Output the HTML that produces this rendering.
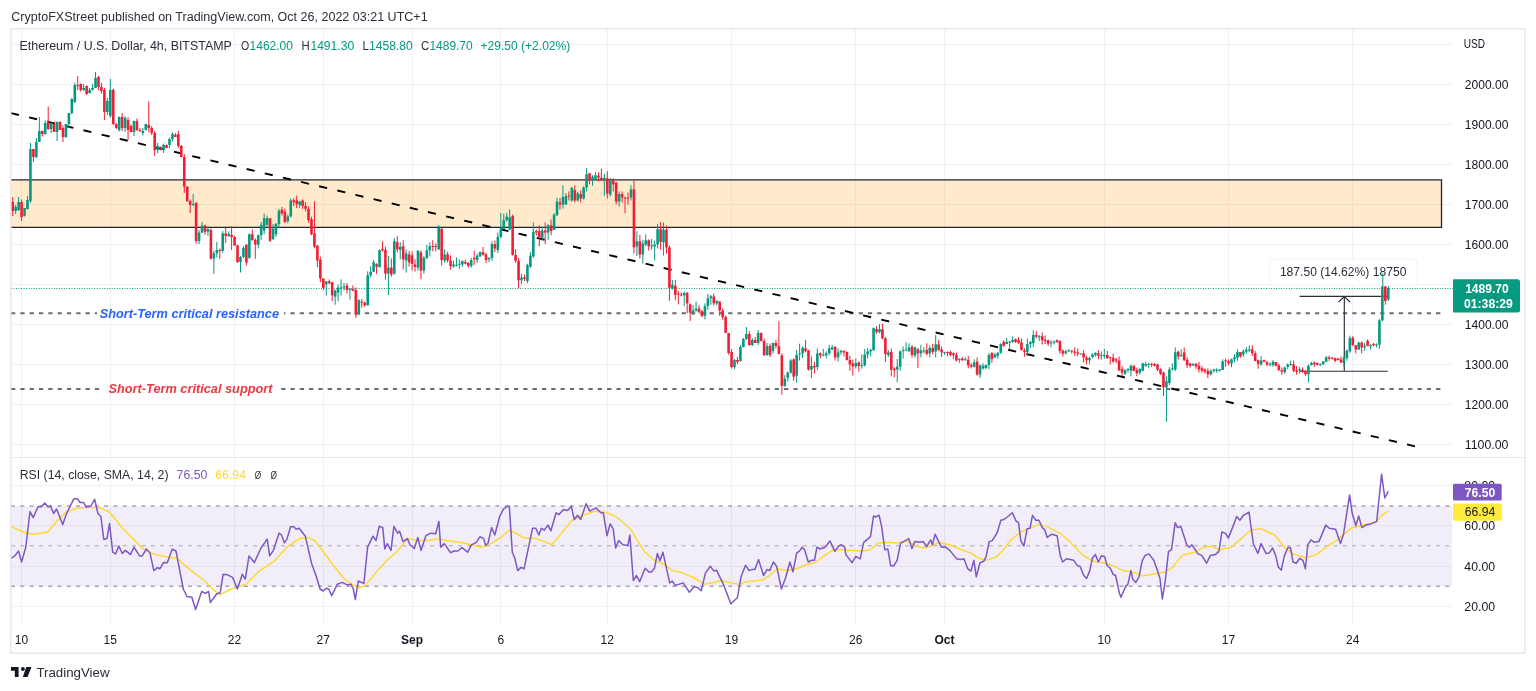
<!DOCTYPE html>
<html><head><meta charset="utf-8"><style>html,body{margin:0;padding:0;background:#fff;width:1536px;height:691px;overflow:hidden}svg{display:block}</style></head>
<body><div style="will-change:transform;width:1536px;height:691px"><svg width="1536" height="691" viewBox="0 0 1536 691" font-family="Liberation Sans, sans-serif"><rect width="1536" height="691" fill="#ffffff"/><text x="11.3" y="20.8" font-size="12.5" fill="#2a2e39" textLength="416.3" lengthAdjust="spacingAndGlyphs">CryptoFXStreet published on TradingView.com, Oct 26, 2022 03:21 UTC+1</text><path d="M11 44.5H1453M11 84.5H1453M11 124.5H1453M11 164.5H1453M11 204.5H1453M11 244.5H1453M11 284.5H1453M11 324.5H1453M11 364.5H1453M11 404.5H1453M11 444.5H1453M11 485.5H1453M11 525.5H1453M11 566.5H1453M11 606.5H1453M21.5 29V457M21.5 458V624M110.5 29V457M110.5 458V624M234.5 29V457M234.5 458V624M323.5 29V457M323.5 458V624M412.5 29V457M412.5 458V624M500.5 29V457M500.5 458V624M607.5 29V457M607.5 458V624M731.5 29V457M731.5 458V624M855.5 29V457M855.5 458V624M944.5 29V457M944.5 458V624M1104.5 29V457M1104.5 458V624M1228.5 29V457M1228.5 458V624M1352.5 29V457M1352.5 458V624" stroke="#f0f1f4" stroke-width="1" fill="none"/><rect x="10" y="179.8" width="1431.5" height="47.6" fill="rgba(255,152,0,0.2)"/><path d="M10 179.8H1441.5V227.4H10" fill="none" stroke="#22252e" stroke-width="1.3"/><path d="M11 313.3H97" stroke="#6a6d75" stroke-width="2" stroke-dasharray="4.3 5.014" stroke-dashoffset="0.00" fill="none"/><path d="M283.9 313.3H1441" stroke="#6a6d75" stroke-width="2" stroke-dasharray="4.3 5.014" stroke-dashoffset="2.79" fill="none"/><path d="M11 389H99.5" stroke="#6a6d75" stroke-width="2" stroke-dasharray="4.3 5.014" stroke-dashoffset="0.00" fill="none"/><path d="M281 389H1441" stroke="#6a6d75" stroke-width="2" stroke-dasharray="4.3 5.014" stroke-dashoffset="9.21" fill="none"/><text x="99.7" y="317.7" font-size="12.5" fill="#2962ff" textLength="179.3" lengthAdjust="spacingAndGlyphs" font-weight="bold" font-style="italic">Short-Term critical resistance</text><text x="108.5" y="393.2" font-size="12.5" fill="#f23645" textLength="164" lengthAdjust="spacingAndGlyphs" font-weight="bold" font-style="italic">Short-Term critical support</text><path d="M10.93 113.07L1415 446.3" stroke="#000000" stroke-width="1.9" stroke-dasharray="8.2 10.435" fill="none"/><path d="M11 288.5H1453" stroke="#089981" stroke-width="1" stroke-dasharray="1 1.52" fill="none"/><path d="M1299.6 296.4H1387.8M1299.6 371.2H1387.8M1344.3 371.2V296.9M1338.6 302L1344.3 296.6L1350 302" stroke="#2a2e39" stroke-width="1.15" fill="none"/><g fill="#089981"><rect x="14.35" y="207.00" width="2.6" height="4.00"/><rect x="15.15" y="205.00" width="1" height="9.00"/><rect x="17.31" y="202.00" width="2.6" height="8.00"/><rect x="18.11" y="197.00" width="1" height="14.00"/><rect x="23.22" y="208.00" width="2.6" height="8.00"/><rect x="24.02" y="208.00" width="1" height="8.50"/><rect x="26.18" y="200.00" width="2.6" height="9.00"/><rect x="26.98" y="196.00" width="1" height="13.50"/><rect x="29.14" y="149.00" width="2.6" height="52.00"/><rect x="29.94" y="143.00" width="1" height="60.00"/><rect x="35.06" y="142.00" width="2.6" height="15.00"/><rect x="35.86" y="138.00" width="1" height="20.00"/><rect x="38.02" y="131.00" width="2.6" height="11.00"/><rect x="38.82" y="117.00" width="1" height="25.00"/><rect x="43.93" y="123.00" width="2.6" height="11.00"/><rect x="44.73" y="120.50" width="1" height="14.00"/><rect x="49.85" y="123.00" width="2.6" height="6.00"/><rect x="50.65" y="122.50" width="1" height="10.50"/><rect x="55.77" y="122.00" width="2.6" height="10.00"/><rect x="56.57" y="121.50" width="1" height="19.50"/><rect x="64.64" y="124.00" width="2.6" height="13.00"/><rect x="65.44" y="124.00" width="1" height="14.00"/><rect x="67.60" y="113.00" width="2.6" height="11.00"/><rect x="68.40" y="113.00" width="1" height="15.00"/><rect x="70.56" y="99.00" width="2.6" height="14.00"/><rect x="71.36" y="98.00" width="1" height="16.50"/><rect x="73.51" y="85.00" width="2.6" height="17.00"/><rect x="74.31" y="82.50" width="1" height="20.50"/><rect x="82.39" y="88.00" width="2.6" height="2.00"/><rect x="83.19" y="84.00" width="1" height="7.00"/><rect x="88.31" y="90.00" width="2.6" height="3.00"/><rect x="89.11" y="88.00" width="1" height="5.50"/><rect x="91.26" y="88.00" width="2.6" height="2.00"/><rect x="92.06" y="84.00" width="1" height="6.50"/><rect x="94.22" y="78.00" width="2.6" height="10.00"/><rect x="95.02" y="72.00" width="1" height="16.00"/><rect x="106.06" y="101.00" width="2.6" height="11.00"/><rect x="106.86" y="98.00" width="1" height="17.00"/><rect x="109.01" y="90.00" width="2.6" height="26.00"/><rect x="109.81" y="79.00" width="1" height="39.00"/><rect x="117.89" y="117.00" width="2.6" height="13.00"/><rect x="118.69" y="116.50" width="1" height="15.00"/><rect x="123.81" y="118.00" width="2.6" height="10.00"/><rect x="124.61" y="116.00" width="1" height="16.00"/><rect x="132.68" y="121.00" width="2.6" height="11.00"/><rect x="133.48" y="120.50" width="1" height="15.50"/><rect x="141.56" y="131.00" width="2.6" height="2.00"/><rect x="142.36" y="128.00" width="1" height="7.50"/><rect x="144.51" y="124.00" width="2.6" height="6.00"/><rect x="145.31" y="124.00" width="1" height="6.50"/><rect x="156.35" y="146.00" width="2.6" height="4.00"/><rect x="157.15" y="143.00" width="1" height="10.00"/><rect x="162.26" y="145.00" width="2.6" height="5.00"/><rect x="163.06" y="143.50" width="1" height="9.50"/><rect x="168.18" y="139.00" width="2.6" height="6.00"/><rect x="168.98" y="137.50" width="1" height="10.50"/><rect x="171.14" y="134.00" width="2.6" height="5.00"/><rect x="171.94" y="132.50" width="1" height="9.00"/><rect x="191.85" y="204.00" width="2.6" height="1.00"/><rect x="192.65" y="194.00" width="1" height="12.00"/><rect x="197.76" y="232.50" width="2.6" height="8.50"/><rect x="198.56" y="230.00" width="1" height="14.00"/><rect x="200.72" y="225.60" width="2.6" height="6.90"/><rect x="201.52" y="222.00" width="1" height="11.00"/><rect x="206.64" y="229.00" width="2.6" height="2.70"/><rect x="207.44" y="226.50" width="1" height="9.20"/><rect x="212.55" y="253.40" width="2.6" height="5.20"/><rect x="213.35" y="250.90" width="1" height="23.10"/><rect x="215.51" y="250.00" width="2.6" height="3.40"/><rect x="216.31" y="242.00" width="1" height="15.40"/><rect x="221.43" y="233.40" width="2.6" height="17.40"/><rect x="222.23" y="230.90" width="1" height="21.90"/><rect x="227.35" y="234.00" width="2.6" height="2.00"/><rect x="228.15" y="231.50" width="1" height="5.50"/><rect x="239.18" y="257.00" width="2.6" height="5.00"/><rect x="239.98" y="256.00" width="1" height="16.50"/><rect x="242.14" y="248.00" width="2.6" height="9.00"/><rect x="242.94" y="246.00" width="1" height="12.00"/><rect x="248.05" y="234.30" width="2.6" height="23.50"/><rect x="248.85" y="233.30" width="1" height="25.50"/><rect x="256.93" y="235.20" width="2.6" height="9.40"/><rect x="257.73" y="234.30" width="1" height="14.10"/><rect x="259.89" y="224.80" width="2.6" height="10.40"/><rect x="260.69" y="222.00" width="1" height="17.90"/><rect x="262.85" y="218.20" width="2.6" height="12.30"/><rect x="263.65" y="213.50" width="1" height="20.80"/><rect x="265.80" y="218.20" width="2.6" height="6.60"/><rect x="266.60" y="215.40" width="1" height="10.90"/><rect x="271.72" y="228.60" width="2.6" height="10.40"/><rect x="272.52" y="223.90" width="1" height="16.10"/><rect x="274.68" y="223.90" width="2.6" height="10.40"/><rect x="275.48" y="223.00" width="1" height="13.80"/><rect x="277.64" y="210.70" width="2.6" height="13.20"/><rect x="278.44" y="208.80" width="1" height="19.10"/><rect x="286.51" y="216.40" width="2.6" height="4.70"/><rect x="287.31" y="214.50" width="1" height="8.60"/><rect x="289.47" y="200.40" width="2.6" height="16.00"/><rect x="290.27" y="198.50" width="1" height="18.90"/><rect x="298.35" y="201.30" width="2.6" height="3.70"/><rect x="299.15" y="201.30" width="1" height="6.60"/><rect x="324.97" y="281.30" width="2.6" height="2.90"/><rect x="325.77" y="281.30" width="1" height="14.20"/><rect x="333.85" y="290.50" width="2.6" height="6.10"/><rect x="334.65" y="289.50" width="1" height="15.20"/><rect x="336.80" y="287.50" width="2.6" height="5.10"/><rect x="337.60" y="284.40" width="1" height="16.80"/><rect x="339.76" y="287.50" width="2.6" height="1.00"/><rect x="340.56" y="279.40" width="1" height="16.20"/><rect x="342.72" y="286.50" width="2.6" height="1.00"/><rect x="343.52" y="283.00" width="1" height="7.50"/><rect x="348.64" y="289.00" width="2.6" height="1.00"/><rect x="349.44" y="288.00" width="1" height="11.60"/><rect x="357.51" y="300.20" width="2.6" height="14.10"/><rect x="358.31" y="299.10" width="1" height="16.20"/><rect x="366.39" y="275.30" width="2.6" height="29.90"/><rect x="367.19" y="271.30" width="1" height="34.40"/><rect x="369.34" y="271.80" width="2.6" height="3.50"/><rect x="370.14" y="266.20" width="1" height="11.10"/><rect x="372.30" y="262.20" width="2.6" height="9.60"/><rect x="373.10" y="260.10" width="1" height="11.70"/><rect x="378.22" y="250.00" width="2.6" height="17.20"/><rect x="379.02" y="249.50" width="1" height="17.70"/><rect x="387.09" y="267.60" width="2.6" height="6.00"/><rect x="387.89" y="255.90" width="1" height="39.10"/><rect x="393.01" y="241.20" width="2.6" height="32.40"/><rect x="393.81" y="238.20" width="1" height="36.40"/><rect x="398.93" y="246.80" width="2.6" height="3.00"/><rect x="399.73" y="242.20" width="1" height="17.20"/><rect x="404.84" y="253.40" width="2.6" height="7.10"/><rect x="405.64" y="249.30" width="1" height="23.30"/><rect x="416.68" y="250.80" width="2.6" height="16.80"/><rect x="417.48" y="250.30" width="1" height="20.30"/><rect x="422.59" y="257.90" width="2.6" height="12.70"/><rect x="423.39" y="255.90" width="1" height="17.70"/><rect x="425.55" y="250.30" width="2.6" height="8.10"/><rect x="426.35" y="244.80" width="1" height="13.60"/><rect x="428.51" y="246.30" width="2.6" height="4.00"/><rect x="429.31" y="242.20" width="1" height="14.20"/><rect x="437.39" y="228.00" width="2.6" height="21.30"/><rect x="438.19" y="225.00" width="1" height="24.80"/><rect x="443.30" y="254.40" width="2.6" height="6.10"/><rect x="444.10" y="249.30" width="1" height="13.70"/><rect x="452.18" y="264.50" width="2.6" height="2.00"/><rect x="452.98" y="260.50" width="1" height="7.10"/><rect x="455.14" y="264.75" width="2.6" height="1.00"/><rect x="455.94" y="257.40" width="1" height="9.10"/><rect x="458.09" y="263.75" width="2.6" height="1.00"/><rect x="458.89" y="259.40" width="1" height="9.20"/><rect x="461.05" y="261.00" width="2.6" height="3.50"/><rect x="461.85" y="260.50" width="1" height="6.50"/><rect x="469.93" y="260.00" width="2.6" height="5.80"/><rect x="470.73" y="258.00" width="1" height="9.80"/><rect x="475.84" y="255.70" width="2.6" height="4.30"/><rect x="476.64" y="253.50" width="1" height="9.50"/><rect x="478.80" y="252.10" width="2.6" height="4.30"/><rect x="479.60" y="251.40" width="1" height="5.50"/><rect x="487.68" y="257.90" width="2.6" height="1.40"/><rect x="488.48" y="257.20" width="1" height="5.10"/><rect x="490.64" y="244.10" width="2.6" height="13.80"/><rect x="491.44" y="241.20" width="1" height="19.70"/><rect x="496.55" y="236.90" width="2.6" height="13.10"/><rect x="497.35" y="232.60" width="1" height="20.40"/><rect x="499.51" y="228.90" width="2.6" height="8.00"/><rect x="500.31" y="213.00" width="1" height="25.40"/><rect x="502.47" y="220.30" width="2.6" height="8.60"/><rect x="503.27" y="213.70" width="1" height="15.70"/><rect x="505.43" y="216.60" width="2.6" height="3.70"/><rect x="506.23" y="213.00" width="1" height="8.30"/><rect x="508.38" y="217.40" width="2.6" height="12.30"/><rect x="509.18" y="209.40" width="1" height="20.30"/><rect x="520.22" y="277.40" width="2.6" height="2.90"/><rect x="521.02" y="273.80" width="1" height="10.10"/><rect x="526.13" y="265.10" width="2.6" height="15.90"/><rect x="526.93" y="263.70" width="1" height="19.50"/><rect x="529.09" y="255.70" width="2.6" height="10.90"/><rect x="529.89" y="252.10" width="1" height="15.90"/><rect x="532.05" y="231.80" width="2.6" height="24.60"/><rect x="532.85" y="222.40" width="1" height="35.50"/><rect x="540.93" y="230.40" width="2.6" height="7.20"/><rect x="541.73" y="226.80" width="1" height="13.70"/><rect x="546.84" y="225.30" width="2.6" height="7.30"/><rect x="547.64" y="224.30" width="1" height="15.50"/><rect x="552.76" y="214.70" width="2.6" height="15.30"/><rect x="553.56" y="213.20" width="1" height="16.80"/><rect x="555.72" y="201.50" width="2.6" height="13.70"/><rect x="556.52" y="197.50" width="1" height="18.70"/><rect x="561.63" y="197.00" width="2.6" height="7.60"/><rect x="562.43" y="185.30" width="1" height="23.30"/><rect x="564.59" y="196.00" width="2.6" height="8.60"/><rect x="565.39" y="193.00" width="1" height="11.60"/><rect x="570.51" y="187.90" width="2.6" height="12.60"/><rect x="571.31" y="186.90" width="1" height="14.60"/><rect x="576.43" y="193.40" width="2.6" height="7.10"/><rect x="577.23" y="191.90" width="1" height="9.60"/><rect x="582.34" y="187.40" width="2.6" height="11.10"/><rect x="583.14" y="186.30" width="1" height="13.20"/><rect x="585.30" y="174.20" width="2.6" height="13.20"/><rect x="586.10" y="168.10" width="1" height="23.30"/><rect x="591.22" y="176.70" width="2.6" height="3.60"/><rect x="592.02" y="175.20" width="1" height="10.60"/><rect x="594.18" y="175.20" width="2.6" height="4.00"/><rect x="594.98" y="172.20" width="1" height="7.50"/><rect x="603.05" y="177.70" width="2.6" height="2.60"/><rect x="603.85" y="173.70" width="1" height="21.80"/><rect x="608.97" y="179.80" width="2.6" height="14.60"/><rect x="609.77" y="177.80" width="1" height="18.70"/><rect x="617.84" y="194.00" width="2.6" height="7.50"/><rect x="618.64" y="191.40" width="1" height="15.20"/><rect x="629.68" y="189.40" width="2.6" height="8.10"/><rect x="630.48" y="185.30" width="1" height="15.20"/><rect x="635.59" y="241.30" width="2.6" height="5.10"/><rect x="636.39" y="231.20" width="1" height="24.80"/><rect x="641.51" y="243.40" width="2.6" height="11.10"/><rect x="642.31" y="239.80" width="1" height="23.80"/><rect x="644.47" y="240.30" width="2.6" height="4.10"/><rect x="645.27" y="234.30" width="1" height="12.10"/><rect x="650.38" y="245.40" width="2.6" height="1.00"/><rect x="651.18" y="238.80" width="1" height="10.70"/><rect x="653.34" y="244.40" width="2.6" height="2.00"/><rect x="654.14" y="240.40" width="1" height="20.20"/><rect x="656.30" y="229.20" width="2.6" height="15.20"/><rect x="657.10" y="224.10" width="1" height="24.30"/><rect x="662.22" y="229.70" width="2.6" height="12.70"/><rect x="663.02" y="222.60" width="1" height="32.90"/><rect x="671.09" y="284.60" width="2.6" height="3.90"/><rect x="671.89" y="280.00" width="1" height="9.80"/><rect x="682.92" y="293.00" width="2.6" height="2.30"/><rect x="683.72" y="291.40" width="1" height="14.60"/><rect x="691.80" y="310.30" width="2.6" height="2.30"/><rect x="692.60" y="305.10" width="1" height="10.00"/><rect x="694.76" y="308.60" width="2.6" height="2.00"/><rect x="695.56" y="301.50" width="1" height="10.10"/><rect x="703.63" y="306.00" width="2.6" height="9.80"/><rect x="704.43" y="303.40" width="1" height="16.00"/><rect x="706.59" y="298.20" width="2.6" height="7.80"/><rect x="707.39" y="294.00" width="1" height="16.00"/><rect x="709.55" y="296.30" width="2.6" height="1.90"/><rect x="710.35" y="295.00" width="1" height="9.70"/><rect x="715.47" y="301.00" width="2.6" height="2.40"/><rect x="716.27" y="300.20" width="1" height="5.20"/><rect x="733.22" y="360.00" width="2.6" height="7.00"/><rect x="734.02" y="359.00" width="1" height="10.00"/><rect x="739.13" y="347.00" width="2.6" height="14.00"/><rect x="739.93" y="345.00" width="1" height="16.50"/><rect x="742.09" y="339.00" width="2.6" height="8.00"/><rect x="742.89" y="338.00" width="1" height="9.50"/><rect x="745.05" y="334.00" width="2.6" height="5.00"/><rect x="745.85" y="327.00" width="1" height="13.00"/><rect x="750.97" y="340.00" width="2.6" height="5.00"/><rect x="751.77" y="338.00" width="1" height="8.00"/><rect x="756.88" y="333.00" width="2.6" height="10.00"/><rect x="757.68" y="330.00" width="1" height="15.00"/><rect x="765.76" y="346.00" width="2.6" height="9.00"/><rect x="766.56" y="343.00" width="1" height="13.00"/><rect x="771.67" y="343.00" width="2.6" height="8.00"/><rect x="772.47" y="342.50" width="1" height="11.00"/><rect x="783.51" y="378.70" width="2.6" height="7.10"/><rect x="784.31" y="375.20" width="1" height="11.60"/><rect x="786.47" y="372.60" width="2.6" height="5.10"/><rect x="787.27" y="371.60" width="1" height="10.10"/><rect x="789.42" y="360.50" width="2.6" height="12.10"/><rect x="790.22" y="358.90" width="1" height="14.70"/><rect x="795.34" y="354.90" width="2.6" height="20.80"/><rect x="796.14" y="349.80" width="1" height="33.00"/><rect x="798.30" y="353.40" width="2.6" height="1.00"/><rect x="799.10" y="343.70" width="1" height="16.80"/><rect x="801.26" y="347.80" width="2.6" height="5.60"/><rect x="802.06" y="346.30" width="1" height="11.60"/><rect x="810.13" y="366.00" width="2.6" height="3.60"/><rect x="810.93" y="356.40" width="1" height="21.80"/><rect x="816.05" y="353.40" width="2.6" height="13.60"/><rect x="816.85" y="348.30" width="1" height="21.70"/><rect x="821.96" y="354.65" width="2.6" height="1.00"/><rect x="822.76" y="348.80" width="1" height="7.60"/><rect x="824.92" y="353.40" width="2.6" height="2.00"/><rect x="825.72" y="351.30" width="1" height="7.10"/><rect x="827.88" y="348.30" width="2.6" height="5.10"/><rect x="828.68" y="344.80" width="1" height="10.60"/><rect x="830.84" y="347.30" width="2.6" height="2.00"/><rect x="831.64" y="344.80" width="1" height="5.50"/><rect x="836.76" y="352.40" width="2.6" height="5.00"/><rect x="837.56" y="348.40" width="1" height="13.00"/><rect x="839.71" y="350.80" width="2.6" height="1.60"/><rect x="840.51" y="349.80" width="1" height="5.10"/><rect x="854.51" y="363.00" width="2.6" height="3.50"/><rect x="855.31" y="358.40" width="1" height="10.20"/><rect x="860.42" y="365.25" width="2.6" height="1.00"/><rect x="861.22" y="354.40" width="1" height="14.10"/><rect x="863.38" y="354.40" width="2.6" height="11.10"/><rect x="864.18" y="348.80" width="1" height="17.70"/><rect x="866.34" y="351.40" width="2.6" height="3.10"/><rect x="867.14" y="347.90" width="1" height="10.60"/><rect x="869.30" y="349.90" width="2.6" height="1.50"/><rect x="870.10" y="348.90" width="1" height="7.60"/><rect x="872.26" y="328.10" width="2.6" height="22.30"/><rect x="873.06" y="327.60" width="1" height="22.80"/><rect x="878.17" y="329.10" width="2.6" height="3.10"/><rect x="878.97" y="324.10" width="1" height="9.10"/><rect x="887.05" y="352.40" width="2.6" height="2.60"/><rect x="887.85" y="349.90" width="1" height="7.10"/><rect x="895.92" y="366.60" width="2.6" height="3.00"/><rect x="896.72" y="359.00" width="1" height="23.30"/><rect x="898.88" y="351.40" width="2.6" height="15.20"/><rect x="899.68" y="350.40" width="1" height="20.20"/><rect x="901.84" y="350.40" width="2.6" height="1.00"/><rect x="902.64" y="346.40" width="1" height="12.10"/><rect x="904.80" y="349.40" width="2.6" height="1.00"/><rect x="905.60" y="342.30" width="1" height="9.10"/><rect x="907.76" y="347.40" width="2.6" height="4.00"/><rect x="908.56" y="343.30" width="1" height="8.10"/><rect x="913.67" y="347.40" width="2.6" height="8.10"/><rect x="914.47" y="346.40" width="1" height="11.10"/><rect x="919.59" y="350.40" width="2.6" height="3.00"/><rect x="920.39" y="344.80" width="1" height="12.70"/><rect x="922.55" y="350.40" width="2.6" height="1.00"/><rect x="923.35" y="347.40" width="1" height="6.00"/><rect x="928.46" y="347.90" width="2.6" height="5.50"/><rect x="929.26" y="345.30" width="1" height="12.10"/><rect x="934.38" y="344.30" width="2.6" height="7.10"/><rect x="935.18" y="335.20" width="1" height="22.30"/><rect x="943.25" y="351.90" width="2.6" height="1.00"/><rect x="944.05" y="351.90" width="1" height="3.00"/><rect x="958.05" y="358.85" width="2.6" height="1.00"/><rect x="958.85" y="358.40" width="1" height="4.40"/><rect x="963.96" y="359.25" width="2.6" height="1.00"/><rect x="964.76" y="357.10" width="1" height="3.50"/><rect x="972.84" y="362.40" width="2.6" height="4.30"/><rect x="973.64" y="359.30" width="1" height="8.40"/><rect x="978.75" y="365.40" width="2.6" height="9.10"/><rect x="979.55" y="364.50" width="1" height="13.50"/><rect x="981.71" y="365.80" width="2.6" height="2.60"/><rect x="982.51" y="363.20" width="1" height="6.50"/><rect x="984.67" y="365.00" width="2.6" height="3.00"/><rect x="985.47" y="364.50" width="1" height="4.50"/><rect x="987.63" y="355.00" width="2.6" height="10.00"/><rect x="988.43" y="353.20" width="1" height="15.80"/><rect x="993.55" y="354.50" width="2.6" height="3.10"/><rect x="994.35" y="352.80" width="1" height="4.80"/><rect x="996.50" y="352.80" width="2.6" height="3.00"/><rect x="997.30" y="351.90" width="1" height="6.90"/><rect x="999.46" y="344.10" width="2.6" height="8.70"/><rect x="1000.26" y="343.20" width="1" height="10.60"/><rect x="1005.38" y="341.90" width="2.6" height="2.20"/><rect x="1006.18" y="338.00" width="1" height="6.10"/><rect x="1008.34" y="341.65" width="2.6" height="1.00"/><rect x="1009.14" y="340.90" width="1" height="8.00"/><rect x="1011.30" y="339.80" width="2.6" height="2.10"/><rect x="1012.10" y="336.30" width="1" height="6.60"/><rect x="1026.09" y="344.10" width="2.6" height="7.80"/><rect x="1026.89" y="338.50" width="1" height="17.40"/><rect x="1029.05" y="341.90" width="2.6" height="2.20"/><rect x="1029.85" y="341.00" width="1" height="7.10"/><rect x="1032.00" y="335.00" width="2.6" height="8.20"/><rect x="1032.80" y="330.20" width="1" height="17.00"/><rect x="1037.92" y="336.25" width="2.6" height="1.00"/><rect x="1038.72" y="335.00" width="1" height="6.10"/><rect x="1049.75" y="342.30" width="2.6" height="1.00"/><rect x="1050.55" y="340.20" width="1" height="7.00"/><rect x="1052.71" y="341.45" width="2.6" height="1.00"/><rect x="1053.51" y="340.60" width="1" height="3.90"/><rect x="1064.55" y="351.10" width="2.6" height="2.10"/><rect x="1065.35" y="349.80" width="1" height="4.90"/><rect x="1067.50" y="350.55" width="2.6" height="1.00"/><rect x="1068.30" y="348.90" width="1" height="2.60"/><rect x="1079.34" y="353.40" width="2.6" height="1.00"/><rect x="1080.14" y="353.70" width="1" height="0.90"/><rect x="1088.21" y="358.00" width="2.6" height="2.20"/><rect x="1089.01" y="356.70" width="1" height="7.50"/><rect x="1091.17" y="354.50" width="2.6" height="2.60"/><rect x="1091.97" y="353.20" width="1" height="4.90"/><rect x="1094.13" y="352.80" width="2.6" height="2.10"/><rect x="1094.93" y="352.40" width="1" height="4.00"/><rect x="1100.04" y="355.10" width="2.6" height="1.00"/><rect x="1100.84" y="351.40" width="1" height="8.40"/><rect x="1103.00" y="354.90" width="2.6" height="1.00"/><rect x="1103.80" y="348.90" width="1" height="9.90"/><rect x="1123.71" y="370.10" width="2.6" height="3.70"/><rect x="1124.51" y="369.10" width="1" height="5.90"/><rect x="1126.67" y="368.90" width="2.6" height="1.20"/><rect x="1127.47" y="368.30" width="1" height="4.30"/><rect x="1129.63" y="365.80" width="2.6" height="5.00"/><rect x="1130.43" y="364.60" width="1" height="11.70"/><rect x="1138.50" y="368.90" width="2.6" height="3.70"/><rect x="1139.30" y="368.30" width="1" height="6.30"/><rect x="1141.46" y="363.40" width="2.6" height="7.40"/><rect x="1142.26" y="362.80" width="1" height="8.50"/><rect x="1144.42" y="364.00" width="2.6" height="1.80"/><rect x="1145.22" y="361.50" width="1" height="5.30"/><rect x="1147.38" y="363.80" width="2.6" height="1.00"/><rect x="1148.18" y="362.80" width="1" height="5.50"/><rect x="1165.13" y="381.20" width="2.6" height="6.20"/><rect x="1165.93" y="376.30" width="1" height="45.50"/><rect x="1168.09" y="369.50" width="2.6" height="13.50"/><rect x="1168.89" y="367.10" width="1" height="17.90"/><rect x="1171.04" y="368.30" width="2.6" height="1.20"/><rect x="1171.84" y="363.40" width="1" height="7.10"/><rect x="1174.00" y="352.30" width="2.6" height="17.20"/><rect x="1174.80" y="347.40" width="1" height="23.60"/><rect x="1179.92" y="354.80" width="2.6" height="1.20"/><rect x="1180.72" y="349.20" width="1" height="7.80"/><rect x="1191.75" y="364.00" width="2.6" height="1.20"/><rect x="1192.55" y="363.00" width="1" height="3.20"/><rect x="1209.50" y="370.80" width="2.6" height="3.60"/><rect x="1210.30" y="369.50" width="1" height="5.90"/><rect x="1212.46" y="369.50" width="2.6" height="1.30"/><rect x="1213.26" y="368.90" width="1" height="3.90"/><rect x="1215.42" y="369.50" width="2.6" height="1.30"/><rect x="1216.22" y="368.30" width="1" height="4.50"/><rect x="1218.38" y="369.60" width="2.6" height="1.20"/><rect x="1219.18" y="369.10" width="1" height="2.50"/><rect x="1221.34" y="361.30" width="2.6" height="8.70"/><rect x="1222.14" y="359.30" width="1" height="10.70"/><rect x="1230.21" y="359.30" width="2.6" height="4.00"/><rect x="1231.01" y="358.50" width="1" height="8.80"/><rect x="1233.17" y="357.30" width="2.6" height="2.00"/><rect x="1233.97" y="354.10" width="1" height="8.20"/><rect x="1236.13" y="352.10" width="2.6" height="5.60"/><rect x="1236.93" y="349.30" width="1" height="11.40"/><rect x="1242.04" y="351.30" width="2.6" height="3.20"/><rect x="1242.84" y="349.30" width="1" height="7.70"/><rect x="1245.00" y="349.70" width="2.6" height="2.00"/><rect x="1245.80" y="347.30" width="1" height="6.40"/><rect x="1247.96" y="349.30" width="2.6" height="1.20"/><rect x="1248.76" y="345.30" width="1" height="6.70"/><rect x="1259.79" y="360.50" width="2.6" height="4.00"/><rect x="1260.59" y="356.10" width="1" height="9.40"/><rect x="1268.67" y="363.80" width="2.6" height="1.00"/><rect x="1269.47" y="362.50" width="1" height="3.90"/><rect x="1271.63" y="361.70" width="2.6" height="3.20"/><rect x="1272.43" y="360.20" width="1" height="6.60"/><rect x="1283.46" y="367.60" width="2.6" height="4.40"/><rect x="1284.26" y="366.40" width="1" height="7.10"/><rect x="1286.42" y="364.50" width="2.6" height="2.30"/><rect x="1287.22" y="363.30" width="1" height="6.00"/><rect x="1289.38" y="364.00" width="2.6" height="1.00"/><rect x="1290.18" y="360.50" width="1" height="5.40"/><rect x="1298.25" y="369.10" width="2.6" height="1.30"/><rect x="1299.05" y="366.90" width="1" height="6.50"/><rect x="1307.13" y="365.60" width="2.6" height="8.70"/><rect x="1307.93" y="364.70" width="1" height="17.80"/><rect x="1310.08" y="363.00" width="2.6" height="2.20"/><rect x="1310.88" y="361.70" width="1" height="3.50"/><rect x="1318.96" y="364.45" width="2.6" height="1.00"/><rect x="1319.76" y="363.20" width="1" height="2.40"/><rect x="1321.92" y="361.30" width="2.6" height="3.00"/><rect x="1322.72" y="361.30" width="1" height="3.50"/><rect x="1324.88" y="357.30" width="2.6" height="4.40"/><rect x="1325.68" y="355.80" width="1" height="6.40"/><rect x="1342.63" y="357.80" width="2.6" height="5.20"/><rect x="1343.43" y="355.80" width="1" height="11.20"/><rect x="1345.58" y="350.80" width="2.6" height="7.40"/><rect x="1346.38" y="349.50" width="1" height="11.20"/><rect x="1348.54" y="338.20" width="2.6" height="13.10"/><rect x="1349.34" y="335.60" width="1" height="17.20"/><rect x="1357.42" y="342.60" width="2.6" height="6.90"/><rect x="1358.22" y="341.60" width="1" height="8.40"/><rect x="1363.33" y="346.10" width="2.6" height="1.30"/><rect x="1364.13" y="343.00" width="1" height="7.80"/><rect x="1369.25" y="345.15" width="2.6" height="1.00"/><rect x="1370.05" y="344.20" width="1" height="5.30"/><rect x="1375.17" y="344.50" width="2.6" height="1.00"/><rect x="1375.97" y="343.30" width="1" height="4.10"/><rect x="1378.13" y="320.40" width="2.6" height="24.30"/><rect x="1378.93" y="318.90" width="1" height="29.80"/><rect x="1381.08" y="286.50" width="2.6" height="33.90"/><rect x="1381.88" y="274.00" width="1" height="47.40"/><rect x="1387.00" y="288.00" width="2.6" height="11.50"/><rect x="1387.80" y="286.00" width="1" height="15.00"/></g><g fill="#f01f35"><rect x="11.39" y="202.00" width="2.6" height="9.00"/><rect x="12.19" y="197.00" width="1" height="19.00"/><rect x="20.27" y="202.00" width="2.6" height="15.00"/><rect x="21.07" y="199.50" width="1" height="21.50"/><rect x="32.10" y="149.00" width="2.6" height="8.00"/><rect x="32.90" y="149.00" width="1" height="13.00"/><rect x="40.97" y="131.00" width="2.6" height="3.00"/><rect x="41.77" y="130.50" width="1" height="6.00"/><rect x="46.89" y="123.00" width="2.6" height="6.00"/><rect x="47.69" y="106.50" width="1" height="23.50"/><rect x="52.81" y="124.00" width="2.6" height="8.00"/><rect x="53.61" y="121.50" width="1" height="10.50"/><rect x="58.72" y="122.00" width="2.6" height="8.00"/><rect x="59.52" y="121.00" width="1" height="9.00"/><rect x="61.68" y="128.00" width="2.6" height="9.00"/><rect x="62.48" y="125.50" width="1" height="16.50"/><rect x="76.47" y="85.00" width="2.6" height="1.00"/><rect x="77.27" y="76.00" width="1" height="14.00"/><rect x="79.43" y="84.00" width="2.6" height="6.00"/><rect x="80.23" y="83.50" width="1" height="8.00"/><rect x="85.35" y="86.00" width="2.6" height="8.00"/><rect x="86.15" y="85.50" width="1" height="9.50"/><rect x="97.18" y="77.00" width="2.6" height="10.00"/><rect x="97.98" y="76.00" width="1" height="14.00"/><rect x="100.14" y="87.00" width="2.6" height="4.00"/><rect x="100.94" y="83.00" width="1" height="10.50"/><rect x="103.10" y="90.00" width="2.6" height="22.00"/><rect x="103.90" y="88.00" width="1" height="32.00"/><rect x="111.97" y="90.00" width="2.6" height="34.00"/><rect x="112.77" y="88.50" width="1" height="36.50"/><rect x="114.93" y="124.00" width="2.6" height="4.00"/><rect x="115.73" y="123.00" width="1" height="6.00"/><rect x="120.85" y="117.00" width="2.6" height="11.00"/><rect x="121.65" y="113.00" width="1" height="18.00"/><rect x="126.76" y="120.00" width="2.6" height="10.00"/><rect x="127.56" y="117.00" width="1" height="23.00"/><rect x="129.72" y="126.00" width="2.6" height="6.00"/><rect x="130.52" y="124.50" width="1" height="8.00"/><rect x="135.64" y="121.00" width="2.6" height="9.00"/><rect x="136.44" y="118.50" width="1" height="12.50"/><rect x="138.60" y="130.00" width="2.6" height="1.00"/><rect x="139.40" y="128.00" width="1" height="4.00"/><rect x="147.47" y="125.00" width="2.6" height="3.00"/><rect x="148.27" y="101.50" width="1" height="30.50"/><rect x="150.43" y="128.00" width="2.6" height="5.00"/><rect x="151.23" y="126.00" width="1" height="9.00"/><rect x="153.39" y="133.00" width="2.6" height="17.00"/><rect x="154.19" y="131.00" width="1" height="25.00"/><rect x="159.31" y="147.00" width="2.6" height="3.00"/><rect x="160.11" y="146.50" width="1" height="4.00"/><rect x="165.22" y="145.00" width="2.6" height="3.00"/><rect x="166.02" y="144.50" width="1" height="3.50"/><rect x="174.10" y="135.00" width="2.6" height="2.00"/><rect x="174.90" y="133.00" width="1" height="4.00"/><rect x="177.06" y="134.00" width="2.6" height="12.00"/><rect x="177.86" y="131.00" width="1" height="17.00"/><rect x="180.01" y="146.00" width="2.6" height="11.00"/><rect x="180.81" y="145.00" width="1" height="12.50"/><rect x="182.97" y="157.00" width="2.6" height="29.50"/><rect x="183.77" y="154.00" width="1" height="39.00"/><rect x="185.93" y="186.50" width="2.6" height="14.50"/><rect x="186.73" y="186.50" width="1" height="15.50"/><rect x="188.89" y="201.00" width="2.6" height="4.00"/><rect x="189.69" y="199.50" width="1" height="13.50"/><rect x="194.81" y="203.00" width="2.6" height="38.00"/><rect x="195.61" y="202.00" width="1" height="41.50"/><rect x="203.68" y="225.60" width="2.6" height="6.10"/><rect x="204.48" y="224.60" width="1" height="10.10"/><rect x="209.60" y="230.00" width="2.6" height="28.60"/><rect x="210.40" y="228.50" width="1" height="31.10"/><rect x="218.47" y="250.00" width="2.6" height="1.00"/><rect x="219.27" y="248.50" width="1" height="10.50"/><rect x="224.39" y="233.40" width="2.6" height="2.60"/><rect x="225.19" y="228.00" width="1" height="15.00"/><rect x="230.30" y="235.00" width="2.6" height="2.00"/><rect x="231.10" y="226.00" width="1" height="24.00"/><rect x="233.26" y="237.00" width="2.6" height="8.50"/><rect x="234.06" y="236.00" width="1" height="10.00"/><rect x="236.22" y="245.50" width="2.6" height="16.50"/><rect x="237.02" y="244.50" width="1" height="18.50"/><rect x="245.10" y="244.60" width="2.6" height="17.90"/><rect x="245.90" y="244.60" width="1" height="20.90"/><rect x="251.01" y="234.30" width="2.6" height="5.60"/><rect x="251.81" y="229.50" width="1" height="11.30"/><rect x="253.97" y="239.90" width="2.6" height="4.70"/><rect x="254.77" y="238.40" width="1" height="20.30"/><rect x="268.76" y="218.20" width="2.6" height="22.60"/><rect x="269.56" y="218.20" width="1" height="23.60"/><rect x="280.60" y="209.80" width="2.6" height="3.70"/><rect x="281.40" y="207.00" width="1" height="8.50"/><rect x="283.55" y="211.70" width="2.6" height="10.30"/><rect x="284.35" y="208.80" width="1" height="14.20"/><rect x="292.43" y="200.40" width="2.6" height="1.80"/><rect x="293.23" y="198.50" width="1" height="7.50"/><rect x="295.39" y="200.40" width="2.6" height="3.70"/><rect x="296.19" y="195.60" width="1" height="12.50"/><rect x="301.30" y="200.40" width="2.6" height="5.60"/><rect x="302.10" y="199.40" width="1" height="9.60"/><rect x="304.26" y="206.00" width="2.6" height="2.80"/><rect x="305.06" y="202.00" width="1" height="9.30"/><rect x="307.22" y="208.80" width="2.6" height="11.30"/><rect x="308.02" y="206.30" width="1" height="16.30"/><rect x="310.18" y="219.20" width="2.6" height="15.10"/><rect x="310.98" y="216.70" width="1" height="18.50"/><rect x="313.14" y="233.30" width="2.6" height="13.20"/><rect x="313.94" y="201.30" width="1" height="47.10"/><rect x="316.10" y="245.60" width="2.6" height="15.00"/><rect x="316.90" y="245.10" width="1" height="22.10"/><rect x="319.05" y="259.70" width="2.6" height="18.80"/><rect x="319.85" y="256.70" width="1" height="25.60"/><rect x="322.01" y="278.50" width="2.6" height="9.40"/><rect x="322.81" y="278.50" width="1" height="11.90"/><rect x="327.93" y="281.30" width="2.6" height="1.90"/><rect x="328.73" y="279.50" width="1" height="4.70"/><rect x="330.89" y="282.30" width="2.6" height="13.20"/><rect x="331.69" y="281.80" width="1" height="19.20"/><rect x="345.68" y="285.50" width="2.6" height="4.50"/><rect x="346.48" y="283.00" width="1" height="10.60"/><rect x="351.59" y="289.00" width="2.6" height="1.50"/><rect x="352.39" y="285.50" width="1" height="6.00"/><rect x="354.55" y="290.00" width="2.6" height="24.80"/><rect x="355.35" y="287.50" width="1" height="30.30"/><rect x="360.47" y="301.70" width="2.6" height="1.00"/><rect x="361.27" y="299.10" width="1" height="8.60"/><rect x="363.43" y="302.70" width="2.6" height="2.50"/><rect x="364.23" y="301.70" width="1" height="5.00"/><rect x="375.26" y="264.20" width="2.6" height="2.50"/><rect x="376.06" y="263.20" width="1" height="10.60"/><rect x="381.18" y="248.80" width="2.6" height="1.50"/><rect x="381.98" y="241.20" width="1" height="10.80"/><rect x="384.14" y="249.80" width="2.6" height="23.80"/><rect x="384.94" y="246.80" width="1" height="32.90"/><rect x="390.05" y="267.60" width="2.6" height="7.00"/><rect x="390.85" y="258.40" width="1" height="18.20"/><rect x="395.97" y="242.20" width="2.6" height="7.10"/><rect x="396.77" y="236.10" width="1" height="16.30"/><rect x="401.89" y="246.30" width="2.6" height="13.10"/><rect x="402.69" y="240.20" width="1" height="29.40"/><rect x="407.80" y="254.40" width="2.6" height="8.10"/><rect x="408.60" y="250.80" width="1" height="15.70"/><rect x="410.76" y="255.40" width="2.6" height="8.60"/><rect x="411.56" y="251.40" width="1" height="19.20"/><rect x="413.72" y="264.50" width="2.6" height="2.50"/><rect x="414.52" y="259.40" width="1" height="12.20"/><rect x="419.64" y="252.40" width="2.6" height="18.20"/><rect x="420.44" y="250.40" width="1" height="28.80"/><rect x="431.47" y="246.05" width="2.6" height="1.00"/><rect x="432.27" y="240.20" width="1" height="11.10"/><rect x="434.43" y="246.05" width="2.6" height="1.00"/><rect x="435.23" y="243.20" width="1" height="8.10"/><rect x="440.34" y="229.00" width="2.6" height="31.00"/><rect x="441.14" y="228.00" width="1" height="37.50"/><rect x="446.26" y="254.40" width="2.6" height="6.10"/><rect x="447.06" y="251.80" width="1" height="10.70"/><rect x="449.22" y="260.50" width="2.6" height="5.50"/><rect x="450.02" y="255.40" width="1" height="14.20"/><rect x="464.01" y="262.00" width="2.6" height="1.50"/><rect x="464.81" y="259.40" width="1" height="5.10"/><rect x="466.97" y="263.00" width="2.6" height="3.00"/><rect x="467.77" y="262.00" width="1" height="5.50"/><rect x="472.89" y="257.90" width="2.6" height="1.40"/><rect x="473.69" y="250.60" width="1" height="14.50"/><rect x="481.76" y="252.10" width="2.6" height="2.90"/><rect x="482.56" y="247.00" width="1" height="8.50"/><rect x="484.72" y="254.30" width="2.6" height="5.70"/><rect x="485.52" y="252.80" width="1" height="10.20"/><rect x="493.59" y="244.10" width="2.6" height="4.40"/><rect x="494.39" y="240.50" width="1" height="11.60"/><rect x="511.34" y="215.90" width="2.6" height="39.10"/><rect x="512.14" y="214.50" width="1" height="41.00"/><rect x="514.30" y="255.00" width="2.6" height="5.80"/><rect x="515.10" y="249.20" width="1" height="13.60"/><rect x="517.26" y="260.80" width="2.6" height="19.50"/><rect x="518.06" y="257.90" width="1" height="30.40"/><rect x="523.18" y="277.40" width="2.6" height="1.50"/><rect x="523.98" y="274.50" width="1" height="6.50"/><rect x="535.01" y="231.10" width="2.6" height="1.50"/><rect x="535.81" y="229.70" width="1" height="5.90"/><rect x="537.97" y="231.10" width="2.6" height="6.50"/><rect x="538.77" y="225.30" width="1" height="21.00"/><rect x="543.88" y="230.40" width="2.6" height="2.20"/><rect x="544.68" y="222.40" width="1" height="21.70"/><rect x="549.80" y="225.30" width="2.6" height="5.80"/><rect x="550.60" y="219.50" width="1" height="15.60"/><rect x="558.68" y="202.60" width="2.6" height="2.00"/><rect x="559.48" y="198.00" width="1" height="11.60"/><rect x="567.55" y="195.50" width="2.6" height="1.00"/><rect x="568.35" y="191.40" width="1" height="9.10"/><rect x="573.47" y="189.90" width="2.6" height="10.60"/><rect x="574.27" y="185.30" width="1" height="17.20"/><rect x="579.38" y="194.00" width="2.6" height="4.50"/><rect x="580.18" y="190.40" width="1" height="12.10"/><rect x="588.26" y="173.20" width="2.6" height="7.10"/><rect x="589.06" y="173.20" width="1" height="11.10"/><rect x="597.13" y="175.70" width="2.6" height="2.00"/><rect x="597.93" y="172.20" width="1" height="9.10"/><rect x="600.09" y="177.70" width="2.6" height="1.60"/><rect x="600.89" y="168.60" width="1" height="12.20"/><rect x="606.01" y="178.20" width="2.6" height="15.20"/><rect x="606.81" y="171.10" width="1" height="27.40"/><rect x="611.93" y="180.30" width="2.6" height="4.00"/><rect x="612.73" y="178.20" width="1" height="13.20"/><rect x="614.88" y="182.80" width="2.6" height="18.70"/><rect x="615.68" y="181.80" width="1" height="22.80"/><rect x="620.80" y="194.00" width="2.6" height="3.50"/><rect x="621.60" y="191.40" width="1" height="11.20"/><rect x="623.76" y="197.50" width="2.6" height="1.00"/><rect x="624.56" y="196.50" width="1" height="16.70"/><rect x="626.72" y="197.75" width="2.6" height="1.00"/><rect x="627.52" y="192.40" width="1" height="12.20"/><rect x="632.63" y="189.40" width="2.6" height="58.00"/><rect x="633.43" y="180.30" width="1" height="73.20"/><rect x="638.55" y="241.30" width="2.6" height="13.20"/><rect x="639.35" y="234.80" width="1" height="23.80"/><rect x="647.43" y="240.30" width="2.6" height="6.10"/><rect x="648.23" y="239.30" width="1" height="11.20"/><rect x="659.26" y="229.20" width="2.6" height="12.60"/><rect x="660.06" y="222.10" width="1" height="27.40"/><rect x="665.17" y="229.70" width="2.6" height="17.70"/><rect x="665.97" y="225.70" width="1" height="27.80"/><rect x="668.13" y="247.40" width="2.6" height="40.40"/><rect x="668.93" y="245.40" width="1" height="55.40"/><rect x="674.05" y="285.90" width="2.6" height="9.10"/><rect x="674.85" y="280.00" width="1" height="20.20"/><rect x="677.01" y="293.65" width="2.6" height="1.00"/><rect x="677.81" y="290.70" width="1" height="13.70"/><rect x="679.97" y="294.45" width="2.6" height="1.00"/><rect x="680.77" y="292.40" width="1" height="3.90"/><rect x="685.88" y="293.00" width="2.6" height="10.40"/><rect x="686.68" y="292.00" width="1" height="21.20"/><rect x="688.84" y="304.40" width="2.6" height="8.20"/><rect x="689.64" y="303.40" width="1" height="17.60"/><rect x="697.72" y="308.60" width="2.6" height="3.30"/><rect x="698.52" y="305.10" width="1" height="8.40"/><rect x="700.67" y="311.30" width="2.6" height="4.80"/><rect x="701.47" y="310.00" width="1" height="7.10"/><rect x="712.51" y="296.60" width="2.6" height="6.80"/><rect x="713.31" y="293.60" width="1" height="11.80"/><rect x="718.42" y="301.80" width="2.6" height="8.80"/><rect x="719.22" y="300.80" width="1" height="15.00"/><rect x="721.38" y="310.60" width="2.6" height="6.50"/><rect x="722.18" y="308.30" width="1" height="11.40"/><rect x="724.34" y="317.10" width="2.6" height="15.90"/><rect x="725.14" y="315.50" width="1" height="17.50"/><rect x="727.30" y="333.00" width="2.6" height="20.00"/><rect x="728.10" y="333.00" width="1" height="21.50"/><rect x="730.26" y="352.00" width="2.6" height="15.00"/><rect x="731.06" y="349.00" width="1" height="19.50"/><rect x="736.17" y="360.00" width="2.6" height="2.00"/><rect x="736.97" y="357.00" width="1" height="7.00"/><rect x="748.01" y="334.00" width="2.6" height="11.00"/><rect x="748.81" y="331.00" width="1" height="15.00"/><rect x="753.92" y="340.00" width="2.6" height="3.00"/><rect x="754.72" y="337.00" width="1" height="6.00"/><rect x="759.84" y="333.00" width="2.6" height="8.00"/><rect x="760.64" y="332.50" width="1" height="9.00"/><rect x="762.80" y="341.00" width="2.6" height="14.00"/><rect x="763.60" y="338.50" width="1" height="17.50"/><rect x="768.72" y="346.00" width="2.6" height="9.00"/><rect x="769.52" y="343.50" width="1" height="13.50"/><rect x="774.63" y="343.00" width="2.6" height="3.00"/><rect x="775.43" y="340.00" width="1" height="8.50"/><rect x="777.59" y="346.00" width="2.6" height="8.00"/><rect x="778.39" y="321.00" width="1" height="33.50"/><rect x="780.55" y="355.40" width="2.6" height="30.40"/><rect x="781.35" y="353.40" width="1" height="41.30"/><rect x="792.38" y="359.40" width="2.6" height="17.30"/><rect x="793.18" y="358.40" width="1" height="22.30"/><rect x="804.21" y="348.30" width="2.6" height="3.00"/><rect x="805.01" y="340.20" width="1" height="12.10"/><rect x="807.17" y="350.30" width="2.6" height="19.30"/><rect x="807.97" y="350.30" width="1" height="20.30"/><rect x="813.09" y="366.00" width="2.6" height="1.50"/><rect x="813.89" y="361.50" width="1" height="12.10"/><rect x="819.01" y="353.40" width="2.6" height="2.00"/><rect x="819.81" y="352.40" width="1" height="6.00"/><rect x="833.80" y="346.80" width="2.6" height="10.60"/><rect x="834.60" y="346.30" width="1" height="14.20"/><rect x="842.67" y="350.80" width="2.6" height="1.60"/><rect x="843.47" y="350.80" width="1" height="5.60"/><rect x="845.63" y="351.80" width="2.6" height="8.20"/><rect x="846.43" y="351.80" width="1" height="8.70"/><rect x="848.59" y="360.00" width="2.6" height="4.50"/><rect x="849.39" y="355.90" width="1" height="14.70"/><rect x="851.55" y="363.50" width="2.6" height="3.00"/><rect x="852.35" y="359.50" width="1" height="16.20"/><rect x="857.46" y="362.50" width="2.6" height="3.50"/><rect x="858.26" y="361.50" width="1" height="10.10"/><rect x="875.21" y="329.10" width="2.6" height="3.10"/><rect x="876.01" y="326.10" width="1" height="7.60"/><rect x="881.13" y="329.10" width="2.6" height="9.20"/><rect x="881.93" y="323.60" width="1" height="15.70"/><rect x="884.09" y="338.30" width="2.6" height="15.70"/><rect x="884.89" y="336.80" width="1" height="25.20"/><rect x="890.01" y="351.90" width="2.6" height="17.70"/><rect x="890.81" y="348.40" width="1" height="27.80"/><rect x="892.96" y="368.60" width="2.6" height="1.60"/><rect x="893.76" y="367.10" width="1" height="10.10"/><rect x="910.71" y="346.90" width="2.6" height="8.10"/><rect x="911.51" y="344.90" width="1" height="12.60"/><rect x="916.63" y="349.40" width="2.6" height="4.00"/><rect x="917.43" y="347.90" width="1" height="20.20"/><rect x="925.51" y="349.90" width="2.6" height="4.00"/><rect x="926.31" y="343.30" width="1" height="12.20"/><rect x="931.42" y="347.90" width="2.6" height="4.00"/><rect x="932.22" y="343.80" width="1" height="10.60"/><rect x="937.34" y="344.30" width="2.6" height="5.60"/><rect x="938.14" y="339.80" width="1" height="11.10"/><rect x="940.30" y="349.40" width="2.6" height="3.00"/><rect x="941.10" y="346.40" width="1" height="10.60"/><rect x="946.21" y="351.90" width="2.6" height="1.30"/><rect x="947.01" y="351.50" width="1" height="4.70"/><rect x="949.17" y="351.90" width="2.6" height="3.10"/><rect x="949.97" y="350.60" width="1" height="5.70"/><rect x="952.13" y="353.20" width="2.6" height="1.80"/><rect x="952.93" y="352.40" width="1" height="6.60"/><rect x="955.09" y="355.00" width="2.6" height="5.60"/><rect x="955.89" y="352.50" width="1" height="9.00"/><rect x="961.00" y="358.40" width="2.6" height="1.80"/><rect x="961.80" y="357.10" width="1" height="3.90"/><rect x="966.92" y="359.80" width="2.6" height="5.60"/><rect x="967.72" y="355.80" width="1" height="12.60"/><rect x="969.88" y="365.00" width="2.6" height="1.70"/><rect x="970.68" y="363.20" width="1" height="5.20"/><rect x="975.80" y="361.50" width="2.6" height="13.00"/><rect x="976.60" y="357.50" width="1" height="18.30"/><rect x="990.59" y="352.80" width="2.6" height="6.10"/><rect x="991.39" y="352.40" width="1" height="10.50"/><rect x="1002.42" y="341.90" width="2.6" height="4.00"/><rect x="1003.22" y="340.20" width="1" height="6.50"/><rect x="1014.25" y="339.30" width="2.6" height="2.60"/><rect x="1015.05" y="338.50" width="1" height="4.40"/><rect x="1017.21" y="340.20" width="2.6" height="3.00"/><rect x="1018.01" y="337.20" width="1" height="6.50"/><rect x="1020.17" y="342.40" width="2.6" height="7.80"/><rect x="1020.97" y="338.40" width="1" height="11.80"/><rect x="1023.13" y="350.20" width="2.6" height="1.70"/><rect x="1023.93" y="348.20" width="1" height="8.50"/><rect x="1034.96" y="335.00" width="2.6" height="1.70"/><rect x="1035.76" y="331.10" width="1" height="7.40"/><rect x="1040.88" y="336.30" width="2.6" height="3.90"/><rect x="1041.68" y="332.40" width="1" height="12.10"/><rect x="1043.84" y="339.80" width="2.6" height="1.30"/><rect x="1044.64" y="335.40" width="1" height="8.70"/><rect x="1046.80" y="340.20" width="2.6" height="3.50"/><rect x="1047.60" y="339.70" width="1" height="6.20"/><rect x="1055.67" y="340.20" width="2.6" height="2.20"/><rect x="1056.47" y="339.30" width="1" height="3.10"/><rect x="1058.63" y="341.10" width="2.6" height="10.00"/><rect x="1059.43" y="340.10" width="1" height="13.60"/><rect x="1061.59" y="350.60" width="2.6" height="3.10"/><rect x="1062.39" y="349.60" width="1" height="7.10"/><rect x="1070.46" y="350.55" width="2.6" height="1.00"/><rect x="1071.26" y="350.10" width="1" height="3.60"/><rect x="1073.42" y="351.50" width="2.6" height="1.30"/><rect x="1074.22" y="347.50" width="1" height="8.30"/><rect x="1076.38" y="352.40" width="2.6" height="1.30"/><rect x="1077.18" y="348.40" width="1" height="7.90"/><rect x="1082.30" y="353.20" width="2.6" height="4.40"/><rect x="1083.10" y="350.20" width="1" height="12.20"/><rect x="1085.25" y="357.60" width="2.6" height="2.60"/><rect x="1086.05" y="355.60" width="1" height="8.60"/><rect x="1097.09" y="353.20" width="2.6" height="2.60"/><rect x="1097.89" y="350.20" width="1" height="9.10"/><rect x="1105.96" y="355.00" width="2.6" height="3.00"/><rect x="1106.76" y="351.00" width="1" height="8.00"/><rect x="1108.92" y="357.30" width="2.6" height="1.00"/><rect x="1109.72" y="356.70" width="1" height="7.80"/><rect x="1111.88" y="357.60" width="2.6" height="3.90"/><rect x="1112.68" y="353.60" width="1" height="9.40"/><rect x="1114.84" y="359.30" width="2.6" height="1.30"/><rect x="1115.64" y="358.00" width="1" height="5.20"/><rect x="1117.79" y="360.60" width="2.6" height="9.60"/><rect x="1118.59" y="356.60" width="1" height="14.60"/><rect x="1120.75" y="368.90" width="2.6" height="3.70"/><rect x="1121.55" y="365.90" width="1" height="10.40"/><rect x="1132.59" y="365.80" width="2.6" height="5.00"/><rect x="1133.39" y="365.20" width="1" height="6.10"/><rect x="1135.54" y="370.10" width="2.6" height="3.10"/><rect x="1136.34" y="367.60" width="1" height="8.60"/><rect x="1150.34" y="363.80" width="2.6" height="1.00"/><rect x="1151.14" y="362.80" width="1" height="4.30"/><rect x="1153.29" y="364.00" width="2.6" height="1.80"/><rect x="1154.09" y="362.80" width="1" height="3.50"/><rect x="1156.25" y="364.60" width="2.6" height="4.90"/><rect x="1157.05" y="363.60" width="1" height="7.40"/><rect x="1159.21" y="368.90" width="2.6" height="4.90"/><rect x="1160.01" y="368.40" width="1" height="6.60"/><rect x="1162.17" y="372.60" width="2.6" height="14.80"/><rect x="1162.97" y="371.60" width="1" height="24.40"/><rect x="1176.96" y="351.70" width="2.6" height="4.90"/><rect x="1177.76" y="350.70" width="1" height="8.90"/><rect x="1182.88" y="352.30" width="2.6" height="8.00"/><rect x="1183.68" y="347.40" width="1" height="13.40"/><rect x="1185.84" y="359.70" width="2.6" height="5.50"/><rect x="1186.64" y="357.20" width="1" height="11.00"/><rect x="1188.79" y="363.40" width="2.6" height="2.40"/><rect x="1189.59" y="362.80" width="1" height="4.90"/><rect x="1194.71" y="364.00" width="2.6" height="2.40"/><rect x="1195.51" y="363.00" width="1" height="5.90"/><rect x="1197.67" y="365.80" width="2.6" height="3.70"/><rect x="1198.47" y="361.80" width="1" height="10.80"/><rect x="1200.63" y="368.30" width="2.6" height="2.50"/><rect x="1201.43" y="365.80" width="1" height="6.80"/><rect x="1203.59" y="369.50" width="2.6" height="1.90"/><rect x="1204.39" y="368.30" width="1" height="5.10"/><rect x="1206.54" y="370.80" width="2.6" height="3.60"/><rect x="1207.34" y="368.30" width="1" height="9.80"/><rect x="1224.29" y="360.40" width="2.6" height="1.00"/><rect x="1225.09" y="358.50" width="1" height="8.30"/><rect x="1227.25" y="361.30" width="2.6" height="2.00"/><rect x="1228.05" y="359.30" width="1" height="6.00"/><rect x="1239.09" y="352.10" width="2.6" height="4.40"/><rect x="1239.88" y="352.10" width="1" height="5.60"/><rect x="1250.92" y="349.30" width="2.6" height="4.00"/><rect x="1251.72" y="345.30" width="1" height="10.80"/><rect x="1253.88" y="353.30" width="2.6" height="7.60"/><rect x="1254.68" y="350.90" width="1" height="10.50"/><rect x="1256.83" y="360.10" width="2.6" height="3.60"/><rect x="1257.63" y="359.60" width="1" height="9.20"/><rect x="1262.75" y="360.10" width="2.6" height="1.60"/><rect x="1263.55" y="359.60" width="1" height="2.60"/><rect x="1265.71" y="362.10" width="2.6" height="2.40"/><rect x="1266.51" y="360.60" width="1" height="5.80"/><rect x="1274.58" y="362.10" width="2.6" height="3.60"/><rect x="1275.38" y="362.10" width="1" height="4.60"/><rect x="1277.54" y="365.30" width="2.6" height="4.70"/><rect x="1278.34" y="363.80" width="1" height="7.20"/><rect x="1280.50" y="370.00" width="2.6" height="1.60"/><rect x="1281.30" y="367.50" width="1" height="7.30"/><rect x="1292.33" y="364.50" width="2.6" height="6.30"/><rect x="1293.13" y="360.50" width="1" height="11.50"/><rect x="1295.29" y="370.00" width="2.6" height="1.60"/><rect x="1296.09" y="366.00" width="1" height="8.80"/><rect x="1301.21" y="369.50" width="2.6" height="1.30"/><rect x="1302.01" y="367.30" width="1" height="5.50"/><rect x="1304.17" y="370.80" width="2.6" height="3.50"/><rect x="1304.97" y="370.30" width="1" height="5.50"/><rect x="1313.04" y="362.60" width="2.6" height="1.70"/><rect x="1313.84" y="361.60" width="1" height="5.20"/><rect x="1316.00" y="363.00" width="2.6" height="1.70"/><rect x="1316.80" y="362.50" width="1" height="3.10"/><rect x="1327.83" y="357.30" width="2.6" height="1.30"/><rect x="1328.63" y="355.60" width="1" height="5.20"/><rect x="1330.79" y="357.70" width="2.6" height="1.00"/><rect x="1331.59" y="356.90" width="1" height="2.70"/><rect x="1333.75" y="358.20" width="2.6" height="2.60"/><rect x="1334.55" y="357.70" width="1" height="4.60"/><rect x="1336.71" y="358.60" width="2.6" height="1.40"/><rect x="1337.51" y="357.80" width="1" height="2.70"/><rect x="1339.67" y="359.50" width="2.6" height="3.10"/><rect x="1340.47" y="356.50" width="1" height="6.10"/><rect x="1351.50" y="337.80" width="2.6" height="7.40"/><rect x="1352.30" y="336.10" width="1" height="10.10"/><rect x="1354.46" y="345.20" width="2.6" height="4.30"/><rect x="1355.26" y="345.20" width="1" height="8.30"/><rect x="1360.38" y="342.60" width="2.6" height="4.80"/><rect x="1361.18" y="341.60" width="1" height="11.80"/><rect x="1366.29" y="340.90" width="2.6" height="5.20"/><rect x="1367.09" y="339.40" width="1" height="6.70"/><rect x="1372.21" y="343.90" width="2.6" height="1.30"/><rect x="1373.01" y="343.00" width="1" height="3.20"/><rect x="1384.04" y="286.50" width="2.6" height="14.50"/><rect x="1384.84" y="286.00" width="1" height="18.70"/></g><rect x="1270" y="259" width="147" height="26.2" rx="4" fill="#ffffff" stroke="#f0f3fa" stroke-width="1"/><text x="1279.9" y="275.8" font-size="12.5" fill="#2a2e39" textLength="126.5" lengthAdjust="spacingAndGlyphs">187.50 (14.62%) 18750</text><rect x="1382.3" y="273.4" width="1" height="13" fill="#089981"/><path d="M10 457.5H1525" stroke="#e6e8ee" stroke-width="1"/><rect x="11" y="506" width="1441" height="80.2" fill="rgba(126,87,194,0.1)"/><path d="M11 506H1452M11 586.2H1452" stroke="#787b86" stroke-width="1" stroke-dasharray="4 5.314" fill="none"/><path d="M11 545.8H1452" stroke="#a3a6af" stroke-width="1" stroke-dasharray="4 5.314" fill="none"/><path d="M11.0 526.3 L18.5 530.0 L27.0 533.2 L34.4 534.2 L48.0 531.8 L56.6 521.4 L66.4 511.6 L78.7 507.9 L88.6 507.4 L98.4 507.2 L109.5 512.0 L123.0 528.8 L134.0 539.9 L142.7 548.5 L155.0 554.6 L167.3 557.0 L177.0 558.3 L189.4 569.4 L204.2 580.5 L214.0 590.3 L220.2 594.7 L231.2 589.0 L246.0 584.2 L259.8 570.6 L274.6 560.8 L286.9 547.2 L299.2 538.6 L307.8 537.4 L315.2 541.0 L323.8 552.2 L333.6 565.7 L343.5 578.0 L353.3 585.4 L359.5 587.8 L365.6 585.4 L375.5 573.1 L387.8 559.6 L397.6 551.0 L407.4 538.6 L417.3 540.6 L427.1 540.6 L437.0 539.1 L446.8 540.6 L459.1 542.3 L471.4 544.8 L481.2 547.2 L491.1 543.6 L500.9 537.4 L509.8 530.0 L524.6 538.1 L536.9 538.6 L551.7 544.8 L561.5 533.2 L571.3 520.9 L583.6 515.3 L593.5 511.6 L603.3 511.6 L613.2 515.3 L620.5 520.2 L630.4 528.8 L637.8 541.1 L645.1 552.2 L655.0 560.8 L664.8 564.5 L672.2 570.6 L682.0 572.6 L694.3 578.0 L704.2 584.2 L711.6 582.9 L721.4 580.5 L731.2 582.9 L739.8 584.2 L746.0 581.7 L762.3 580.0 L769.7 575.5 L777.1 568.7 L786.9 570.6 L796.7 568.7 L806.6 564.5 L816.4 562.0 L823.8 555.9 L833.6 549.7 L843.5 549.7 L853.3 550.4 L863.2 550.9 L870.5 549.7 L877.9 543.1 L887.8 542.3 L897.6 543.1 L907.4 541.1 L917.3 546.5 L924.7 548.0 L932.0 545.5 L939.4 542.3 L951.7 545.5 L961.6 549.7 L971.4 553.4 L978.8 558.3 L986.2 560.3 L996.0 557.1 L1003.4 549.7 L1009.8 541.1 L1019.7 532.5 L1029.5 528.3 L1039.4 524.4 L1049.2 527.6 L1061.5 534.2 L1073.8 545.5 L1083.6 555.9 L1093.5 561.3 L1103.3 562.7 L1113.2 565.7 L1123.0 570.6 L1132.8 571.9 L1142.7 576.0 L1152.5 574.3 L1164.8 571.9 L1172.2 567.7 L1182.0 555.4 L1194.3 552.2 L1204.2 547.2 L1211.6 546.0 L1218.9 549.7 L1231.2 547.2 L1241.1 538.6 L1250.9 530.0 L1261.1 528.8 L1274.6 535.0 L1284.4 547.2 L1293.0 553.9 L1305.4 557.8 L1316.4 554.6 L1326.3 547.2 L1337.3 539.9 L1350.9 528.3 L1363.2 525.1 L1375.5 522.7 L1381.6 515.3 L1388.3 511.1" stroke="#fdd835" stroke-width="1.5" fill="none" stroke-linejoin="round"/><path d="M11.0 558.3 L14.8 555.9 L18.5 551.0 L21.6 562.0 L25.8 547.0 L30.0 511.6 L33.2 517.7 L38.0 506.7 L41.3 506.7 L44.8 503.0 L48.0 507.0 L50.4 506.0 L53.6 513.5 L56.6 509.0 L62.7 524.6 L66.4 514.0 L73.8 498.8 L77.5 498.8 L80.0 502.5 L83.6 502.5 L86.1 507.0 L91.0 506.0 L94.7 499.3 L97.9 513.5 L100.9 516.5 L103.8 539.4 L107.0 538.6 L109.5 523.4 L112.7 552.2 L115.6 553.9 L118.8 546.0 L122.3 553.4 L125.5 550.4 L130.4 554.6 L134.0 547.2 L139.5 555.9 L142.2 555.9 L146.4 549.0 L150.0 552.9 L153.8 570.6 L157.4 567.7 L160.0 568.7 L163.6 562.5 L167.3 562.7 L172.2 549.2 L176.0 551.0 L183.3 589.0 L187.0 596.5 L191.9 597.2 L195.6 609.5 L201.7 591.5 L205.4 593.3 L208.6 591.5 L210.3 602.6 L216.5 594.0 L220.2 592.8 L223.1 574.3 L227.6 574.8 L232.5 577.3 L237.4 589.0 L242.3 574.3 L245.3 579.2 L249.0 555.9 L254.4 562.5 L261.0 548.0 L267.2 539.1 L269.7 555.9 L273.4 550.4 L279.0 533.2 L281.5 535.0 L284.4 542.8 L286.9 539.1 L290.6 526.8 L293.8 526.8 L296.2 529.3 L299.2 528.3 L305.3 536.2 L311.5 563.2 L316.4 576.8 L320.1 589.0 L323.3 591.0 L326.3 588.3 L328.7 589.0 L331.7 595.7 L337.3 584.2 L342.3 582.4 L347.2 584.9 L350.9 584.2 L353.3 589.0 L355.3 599.6 L358.2 581.0 L363.9 583.4 L367.6 547.2 L373.0 536.2 L376.0 540.6 L379.2 526.3 L382.8 527.6 L384.8 549.0 L387.3 543.6 L391.0 550.4 L393.9 526.3 L397.6 533.2 L399.6 531.3 L403.0 541.6 L407.4 538.6 L409.9 544.8 L414.3 548.5 L417.8 537.4 L421.0 550.4 L425.9 535.7 L430.8 533.2 L435.7 533.7 L438.9 521.4 L440.7 547.2 L444.3 543.6 L450.5 552.7 L454.2 551.0 L457.9 551.0 L462.0 547.7 L467.7 552.2 L471.4 544.8 L476.3 542.3 L480.0 536.7 L483.7 538.6 L485.7 545.5 L488.1 543.0 L491.6 527.6 L494.8 535.0 L499.7 516.5 L503.4 509.1 L507.8 506.2 L509.3 506.2 L512.3 552.2 L514.8 558.3 L517.7 570.6 L520.9 567.4 L524.1 568.7 L532.5 528.3 L535.7 528.3 L538.9 535.0 L541.3 528.3 L544.3 530.0 L548.0 525.1 L550.9 530.8 L556.1 512.8 L559.0 514.5 L563.5 509.6 L567.7 510.4 L571.3 506.2 L574.3 519.5 L577.5 515.3 L580.7 519.5 L586.1 503.7 L589.8 511.1 L595.9 507.9 L600.9 512.8 L603.3 512.8 L607.0 535.7 L610.2 523.9 L613.2 528.8 L615.6 548.0 L618.6 540.6 L623.0 544.8 L627.9 545.5 L629.9 535.0 L633.3 580.5 L636.5 575.5 L639.7 581.7 L645.1 568.2 L648.8 571.9 L651.3 571.9 L654.5 568.2 L657.4 553.4 L659.9 560.8 L662.9 552.2 L669.7 582.9 L672.2 581.0 L675.2 585.4 L683.3 582.9 L689.4 592.3 L694.3 586.6 L698.0 587.8 L701.2 590.8 L705.4 573.1 L710.3 566.2 L714.0 571.1 L716.5 570.1 L723.9 585.4 L730.8 603.8 L737.4 597.7 L741.1 576.8 L745.5 565.2 L749.0 570.6 L752.2 569.4 L754.9 569.4 L758.6 559.6 L763.5 575.5 L767.2 569.4 L769.7 570.6 L773.4 562.0 L776.6 566.2 L781.5 589.0 L785.7 577.5 L789.9 562.0 L793.0 571.9 L796.7 552.9 L799.2 551.4 L802.2 547.2 L804.6 549.7 L808.3 562.0 L811.5 560.3 L814.5 560.3 L816.9 547.2 L820.1 549.0 L825.0 547.2 L830.0 541.1 L834.9 551.4 L838.6 546.0 L841.5 544.8 L844.7 547.2 L845.9 554.6 L852.1 562.7 L855.8 556.4 L860.2 558.8 L863.7 542.3 L870.5 536.7 L873.5 516.0 L875.5 517.0 L879.1 515.3 L881.6 526.3 L884.8 549.7 L887.8 549.0 L890.7 565.7 L893.9 565.7 L897.1 560.3 L900.6 543.1 L904.5 541.1 L908.7 538.6 L911.9 548.5 L914.8 541.6 L919.7 542.3 L923.4 541.6 L926.6 546.5 L930.8 539.9 L932.5 544.8 L935.0 534.2 L941.4 547.2 L945.6 547.2 L949.8 550.4 L954.2 555.9 L956.6 558.8 L960.3 559.6 L964.0 558.8 L967.7 568.7 L970.9 571.1 L973.9 560.3 L976.3 576.8 L980.0 562.7 L983.7 561.3 L986.2 556.4 L989.1 541.6 L992.3 540.6 L997.2 532.5 L1000.9 520.2 L1003.9 519.5 L1007.4 517.0 L1012.3 512.8 L1016.0 520.9 L1018.5 522.7 L1020.9 541.1 L1023.9 546.0 L1027.1 528.8 L1030.0 528.3 L1032.5 515.3 L1035.7 520.2 L1038.9 520.2 L1042.3 527.6 L1044.8 530.0 L1047.2 537.4 L1051.7 534.2 L1057.1 535.7 L1060.3 555.9 L1062.7 562.0 L1066.4 558.8 L1073.8 560.3 L1077.5 565.7 L1080.0 566.2 L1083.6 575.0 L1086.6 578.5 L1089.8 570.6 L1092.3 558.3 L1095.4 554.6 L1098.4 562.0 L1101.4 555.9 L1104.6 556.4 L1107.0 565.2 L1110.2 568.2 L1113.2 574.3 L1115.6 575.5 L1119.3 592.8 L1121.0 597.2 L1125.5 586.6 L1127.9 584.2 L1130.9 570.6 L1132.8 579.2 L1135.8 582.4 L1139.0 576.8 L1142.2 560.8 L1145.1 555.4 L1148.8 553.9 L1153.8 560.3 L1157.9 571.9 L1159.9 578.0 L1162.4 598.9 L1165.3 580.5 L1168.5 551.4 L1171.5 549.7 L1175.2 522.7 L1177.6 527.6 L1180.8 526.3 L1187.0 545.5 L1189.4 547.2 L1191.9 544.8 L1198.0 553.9 L1201.7 555.4 L1206.6 563.2 L1210.3 555.4 L1215.3 554.6 L1218.9 551.4 L1221.9 531.8 L1225.8 533.7 L1228.3 538.1 L1232.5 527.6 L1236.7 516.5 L1239.9 520.2 L1243.5 515.3 L1249.0 512.1 L1253.4 544.0 L1254.4 546.0 L1257.9 553.4 L1261.1 543.6 L1266.0 553.4 L1269.2 552.9 L1272.6 548.0 L1275.8 555.9 L1278.3 567.0 L1281.2 570.1 L1284.4 555.9 L1288.1 547.2 L1290.6 548.0 L1293.0 562.0 L1296.2 563.2 L1299.7 558.3 L1302.9 560.3 L1305.4 568.7 L1307.8 544.8 L1311.0 539.9 L1314.5 542.3 L1318.9 541.6 L1325.8 525.1 L1329.2 528.3 L1335.6 529.3 L1340.5 543.6 L1343.5 534.2 L1349.6 494.9 L1352.1 512.8 L1355.8 525.8 L1358.7 516.0 L1361.9 527.6 L1365.6 525.1 L1370.5 523.9 L1376.7 521.4 L1381.6 474.2 L1384.8 498.0 L1388.3 491.4" stroke="#7e57c2" stroke-width="1.5" fill="none" stroke-linejoin="round"/><text x="19.7" y="479.0" font-size="12.5" fill="#2a2e39" textLength="148.8" lengthAdjust="spacingAndGlyphs">RSI (14, close, SMA, 14, 2)</text><text x="176.6" y="479.0" font-size="12.5" fill="#7e57c2" textLength="30.8" lengthAdjust="spacingAndGlyphs">76.50</text><text x="215.3" y="479.0" font-size="12.5" fill="#fdd835" textLength="30.7" lengthAdjust="spacingAndGlyphs">66.94</text><text x="254.7" y="479.0" font-size="10.5" fill="#2a2e39" textLength="6.4" lengthAdjust="spacingAndGlyphs">Ø</text><text x="270.6" y="479.0" font-size="10.5" fill="#2a2e39" textLength="6.4" lengthAdjust="spacingAndGlyphs">Ø</text><text x="19.5" y="49.9" font-size="12.5" fill="#2a2e39" textLength="212.3" lengthAdjust="spacingAndGlyphs">Ethereum / U.S. Dollar, 4h, BITSTAMP</text><text x="240.9" y="49.9" font-size="12.5" fill="#2a2e39" textLength="8.2" lengthAdjust="spacingAndGlyphs">O</text><text x="249.5" y="49.9" font-size="12.5" fill="#089981" textLength="43.5" lengthAdjust="spacingAndGlyphs">1462.00</text><text x="301.5" y="49.9" font-size="12.5" fill="#2a2e39" textLength="8.2" lengthAdjust="spacingAndGlyphs">H</text><text x="310.4" y="49.9" font-size="12.5" fill="#089981" textLength="43.8" lengthAdjust="spacingAndGlyphs">1491.30</text><text x="362.5" y="49.9" font-size="12.5" fill="#2a2e39" textLength="6.3" lengthAdjust="spacingAndGlyphs">L</text><text x="369" y="49.9" font-size="12.5" fill="#089981" textLength="43.8" lengthAdjust="spacingAndGlyphs">1458.80</text><text x="421" y="49.9" font-size="12.5" fill="#2a2e39" textLength="8.2" lengthAdjust="spacingAndGlyphs">C</text><text x="429.4" y="49.9" font-size="12.5" fill="#089981" textLength="43.3" lengthAdjust="spacingAndGlyphs">1489.70</text><text x="480.5" y="49.9" font-size="12.5" fill="#089981" textLength="89.8" lengthAdjust="spacingAndGlyphs">+29.50 (+2.02%)</text><text x="1463.7" y="47.6" font-size="12" fill="#131722" textLength="21.3" lengthAdjust="spacingAndGlyphs">USD</text><text x="1464.8" y="88.8" font-size="12" fill="#131722" textLength="43.6" lengthAdjust="spacingAndGlyphs">2000.00</text><text x="1464.8" y="128.8" font-size="12" fill="#131722" textLength="43.6" lengthAdjust="spacingAndGlyphs">1900.00</text><text x="1464.8" y="168.8" font-size="12" fill="#131722" textLength="43.6" lengthAdjust="spacingAndGlyphs">1800.00</text><text x="1464.8" y="208.8" font-size="12" fill="#131722" textLength="43.6" lengthAdjust="spacingAndGlyphs">1700.00</text><text x="1464.8" y="248.8" font-size="12" fill="#131722" textLength="43.6" lengthAdjust="spacingAndGlyphs">1600.00</text><text x="1464.8" y="328.8" font-size="12" fill="#131722" textLength="43.6" lengthAdjust="spacingAndGlyphs">1400.00</text><text x="1464.8" y="368.8" font-size="12" fill="#131722" textLength="43.6" lengthAdjust="spacingAndGlyphs">1300.00</text><text x="1464.8" y="408.8" font-size="12" fill="#131722" textLength="43.6" lengthAdjust="spacingAndGlyphs">1200.00</text><text x="1464.8" y="448.8" font-size="12" fill="#131722" textLength="43.6" lengthAdjust="spacingAndGlyphs">1100.00</text><path d="M1453 279.2H1517.5A2.5 2.5 0 0 1 1520 281.7V310A2.5 2.5 0 0 1 1517.5 312.5H1453Z" fill="#089981"/><text x="1465.2" y="292.8" font-size="12" fill="#ffffff" textLength="43.4" lengthAdjust="spacingAndGlyphs" font-weight="bold">1489.70</text><text x="1463.9" y="307.8" font-size="12" fill="#ffffff" textLength="49" lengthAdjust="spacingAndGlyphs" font-weight="bold">01:38:29</text><text x="1464.3" y="489.59999999999997" font-size="12" fill="#131722" textLength="30.8" lengthAdjust="spacingAndGlyphs">80.00</text><text x="1464.3" y="530.0999999999999" font-size="12" fill="#131722" textLength="30.8" lengthAdjust="spacingAndGlyphs">60.00</text><text x="1464.3" y="570.5999999999999" font-size="12" fill="#131722" textLength="30.8" lengthAdjust="spacingAndGlyphs">40.00</text><text x="1464.3" y="611.0999999999999" font-size="12" fill="#131722" textLength="30.8" lengthAdjust="spacingAndGlyphs">20.00</text><rect x="1453" y="483.8" width="48.7" height="16.7" rx="1.5" fill="#7e57c2"/><text x="1464.8" y="496.6" font-size="12" fill="#ffffff" textLength="30.4" lengthAdjust="spacingAndGlyphs" font-weight="bold">76.50</text><rect x="1453" y="503.5" width="49" height="17.2" rx="1.5" fill="#ffeb3b"/><text x="1464.8" y="516.2" font-size="12" fill="#131722" textLength="30.4" lengthAdjust="spacingAndGlyphs">66.94</text><text x="21.50" y="643.7" font-size="12" fill="#131722" text-anchor="middle">10</text><text x="110.25" y="643.7" font-size="12" fill="#131722" text-anchor="middle">15</text><text x="234.50" y="643.7" font-size="12" fill="#131722" text-anchor="middle">22</text><text x="323.25" y="643.7" font-size="12" fill="#131722" text-anchor="middle">27</text><text x="412.00" y="643.7" font-size="12" fill="#131722" text-anchor="middle" font-weight="bold">Sep</text><text x="500.75" y="643.7" font-size="12" fill="#131722" text-anchor="middle">6</text><text x="607.25" y="643.7" font-size="12" fill="#131722" text-anchor="middle">12</text><text x="731.50" y="643.7" font-size="12" fill="#131722" text-anchor="middle">19</text><text x="855.75" y="643.7" font-size="12" fill="#131722" text-anchor="middle">26</text><text x="944.50" y="643.7" font-size="12" fill="#131722" text-anchor="middle" font-weight="bold">Oct</text><text x="1104.25" y="643.7" font-size="12" fill="#131722" text-anchor="middle">10</text><text x="1228.50" y="643.7" font-size="12" fill="#131722" text-anchor="middle">17</text><text x="1352.75" y="643.7" font-size="12" fill="#131722" text-anchor="middle">24</text><rect x="10.75" y="28.75" width="1514.2" height="624.5" fill="none" stroke="#e6e8ee" stroke-width="1.5"/><g fill="#131722"><path d="M11 666.9H18.6V677.1H14.8V670.7H11Z"/><circle cx="22.9" cy="669" r="1.9"/><path d="M26.2 666.9H31.5L27.5 677.1H22.9Z"/></g><text x="36.4" y="677.3" font-size="13" fill="#2a2e39" textLength="73.2" lengthAdjust="spacingAndGlyphs">TradingView</text></svg></div></body></html>
